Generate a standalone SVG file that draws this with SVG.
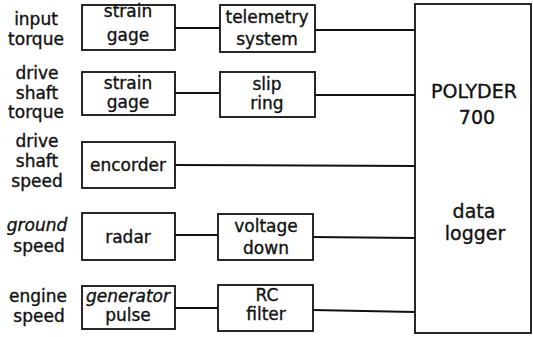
<svg xmlns="http://www.w3.org/2000/svg" width="533" height="337" viewBox="0 0 533 337">
<style>
.box{fill:#fff;stroke:#111;stroke-width:1.8}
.ln{stroke:#111;stroke-width:2;fill:none}
text{font-family:"DejaVu Sans","Liberation Sans",sans-serif;font-size:17px;fill:#111;stroke:#111;stroke-width:0.35;text-anchor:middle}
.it{font-style:italic}
.big{font-size:19px}
</style>
<rect width="533" height="337" fill="#fff"/>
<g id="labels">
<text x="36" y="25">input</text><text x="36" y="45">torque</text>
<text x="37" y="79">drive</text><text x="37" y="99">shaft</text><text x="36" y="118">torque</text>
<text x="37" y="147">drive</text><text x="37" y="167">shaft</text><text x="37" y="187">speed</text>
<text x="37" y="231" class="it">ground</text><text x="39" y="252">speed</text>
<text x="38" y="302">engine</text><text x="39" y="322">speed</text>
</g>
<g id="connectors">
<line class="ln" x1="175" y1="28" x2="220" y2="28"/>
<line class="ln" x1="315" y1="30" x2="415" y2="30"/>
<line class="ln" x1="175" y1="93" x2="220" y2="93"/>
<line class="ln" x1="315" y1="95" x2="415" y2="95"/>
<line class="ln" x1="175" y1="165" x2="415" y2="166"/>
<line class="ln" x1="175" y1="235" x2="218" y2="235"/>
<line class="ln" x1="313" y1="237" x2="415" y2="238"/>
<line class="ln" x1="175" y1="308" x2="218" y2="308"/>
<line class="ln" x1="313" y1="310" x2="415" y2="312"/>
</g>
<g id="strain1"><rect class="box" x="82" y="5" width="93" height="45"/><text x="128" y="17">strain</text><text x="128" y="41">gage</text></g>
<g id="telemetry"><rect class="box" x="220" y="5" width="95" height="47"/><text x="267" y="23">telemetry</text><text x="267" y="45">system</text></g>
<g id="strain2"><rect class="box" x="82" y="72" width="93" height="43"/><text x="128" y="89">strain</text><text x="128" y="108">gage</text></g>
<g id="slipring"><rect class="box" x="220" y="72" width="95" height="45"/><text x="267" y="90">slip</text><text x="267" y="109">ring</text></g>
<g id="encorder"><rect class="box" x="82" y="142" width="93" height="46"/><text x="128" y="171">encorder</text></g>
<g id="radar"><rect class="box" x="82" y="213" width="93" height="47"/><text x="128" y="243">radar</text></g>
<g id="voltage"><rect class="box" x="218" y="214" width="95" height="46"/><text x="266" y="232">voltage</text><text x="266" y="254">down</text></g>
<g id="generator"><rect class="box" x="82" y="286" width="93" height="43"/><text x="128" y="302" class="it">generator</text><text x="128" y="321">pulse</text></g>
<g id="rcfilter"><rect class="box" x="218" y="285" width="95" height="46"/><text x="267" y="301">RC</text><text x="266" y="320">filter</text></g>
<g id="polyder"><rect class="box" x="415" y="4" width="116" height="329"/>
<text x="474" y="98" class="big">POLYDER</text><text x="477" y="124" class="big">700</text>
<text x="474" y="218" class="big">data</text><text x="475" y="240" class="big">logger</text></g>
</svg>
